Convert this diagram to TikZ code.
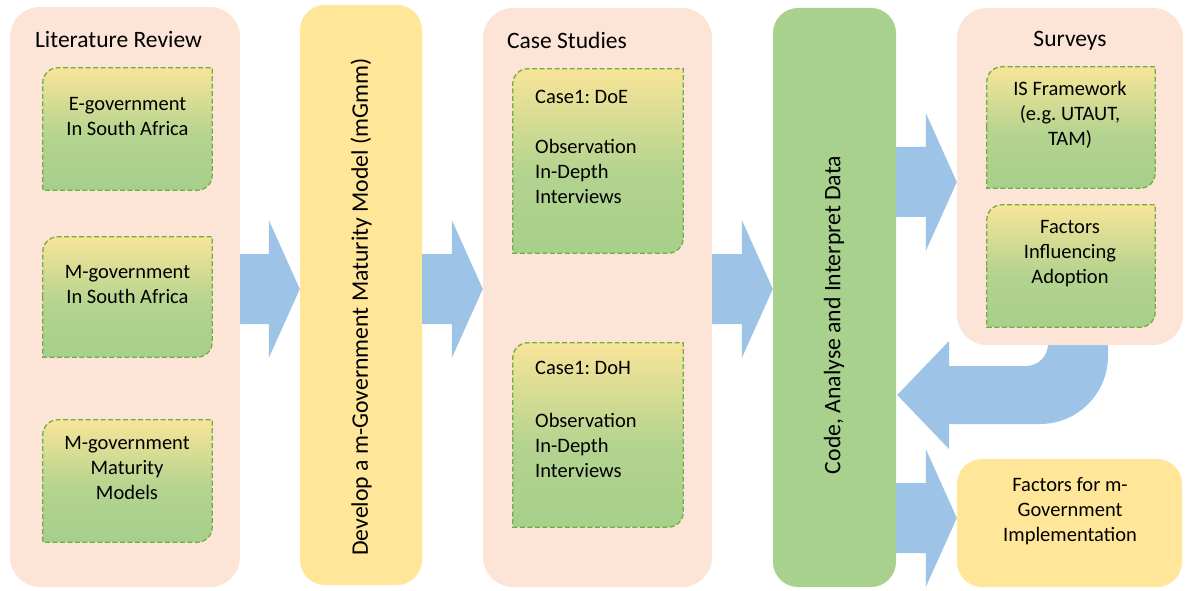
\documentclass[tikz,border=0pt]{standalone}
\usepackage{fontspec}
\setmainfont{Carlito}
\frenchspacing
\usetikzlibrary{calc}
\definecolor{peach}{HTML}{FCE4D6}
\definecolor{sand}{HTML}{FFE699}
\definecolor{leaf}{HTML}{A9D18E}
\definecolor{sky}{HTML}{9DC3E6}
\definecolor{edgegreen}{HTML}{70AD47}

% yellow at the top fading to green over the upper half
\pgfdeclareverticalshading{cardfade}{100bp}{%
  color(0bp)=(leaf!96!edgegreen); color(25bp)=(leaf!96!edgegreen);
  color(47bp)=(leaf!88!sand); color(75bp)=(sand!92!leaf); color(100bp)=(sand!92!leaf)}

% inner card: rounded top-left and bottom-right corners only
\newcommand\cardshape[1]{%
  \path[card] (#1.west) -- ([yshift=-15pt]#1.north west)
    arc[start angle=180,end angle=90,radius=15pt] -- (#1.north east)
    -- ([yshift=15pt]#1.south east)
    arc[start angle=0,end angle=-90,radius=15pt] -- (#1.south west) -- cycle;}

% block arrow between two nodes at height #3
\newcommand\blockarrow[3]{%
  \fill[flow] let \p1=(#1.east), \p2=(#2.west) in
    (\x1,#3pt+35pt) -- (\x2-31pt,#3pt+35pt) -- (\x2-31pt,#3pt+69pt)
    -- (\x2,#3pt) -- (\x2-31pt,#3pt-69pt) -- (\x2-31pt,#3pt-35pt)
    -- (\x1,#3pt-35pt) -- cycle;}

\begin{document}
\begin{tikzpicture}[x=1pt,y=1pt,
  stage/.style={fill=peach, rounded corners=30pt, inner sep=0pt},
  bar/.style={rounded corners=25pt, inner sep=0pt},
  slot/.style={inner sep=0pt},
  card/.style={draw=edgegreen, line width=1.3pt, dash pattern=on 5pt off 2.5pt,
    shade, shading=cardfade},
  flow/.style={fill=sky},
  title/.style={font=\fontsize{23.5}{28}\selectfont, inner sep=0pt},
  txt/.style={font=\fontsize{20.5}{25}\selectfont, inner sep=0pt, align=center},
  ltxt/.style={font=\fontsize{20.5}{25}\selectfont, inner sep=0pt, align=left, anchor=west},
  vtxt/.style={font=\fontsize{23.7}{28}\selectfont, inner sep=0pt, rotate=90}]
\useasboundingbox (0,0) rectangle (1185,590);

% main stages
\node[stage, minimum width=230pt, minimum height=580pt] (lr) at (125,293) {};
\node[bar, fill=sand, minimum width=122pt, minimum height=580pt] (dm) at (361,295) {};
\node[stage, minimum width=229pt, minimum height=579pt] (cs) at (597.5,292.5) {};
\node[bar, fill=leaf, minimum width=123pt, minimum height=579pt] (ca) at (834.5,292.5) {};

% loop back from the surveys to the analysis
\fill[flow] let \p1=(ca.east) in
  (\x1+1pt,195pt) -- (949,249) -- (949,224) -- (1026,224)
  arc[start angle=-90,end angle=0,radius=22] -- (1048,260) -- (1108,260)
  -- (1108,234) arc[start angle=0,end angle=-90,radius=68] -- (949,166)
  -- (949,141) -- cycle;

\node[stage, minimum width=226pt, minimum height=337pt] (sv) at (1070,413.5) {};
\node[bar, fill=sand, minimum width=225pt, minimum height=128pt] (fi) at (1069.5,67) {};

% titles
\node[title] (lrt) at (118.5,550) {Literature Review};
\node[title] (cst) at (567,550) {Case Studies};
\node[title] (svt) at (1070,549) {Surveys};

% literature cards
\node[slot, minimum width=169pt, minimum height=122pt] (lr1) at (127.5,461) {};
\cardshape{lr1}
\node[slot, minimum width=169pt, minimum height=120pt] (lr2) at (127.5,293) {};
\cardshape{lr2}
\node[slot, minimum width=169pt, minimum height=122pt] (lr3) at (127.5,109) {};
\cardshape{lr3}
\node[txt] (lr1x) at (127.5,473.5) {E-government\\In South Africa};
\node[txt] (lr2x) at (127.5,305.5) {M-government\\In South Africa};
\node[txt] (lr3x) at (127,122.5) {M-government\\Maturity\\Models};

% case cards
\node[slot, minimum width=170pt, minimum height=184pt] (cs1) at (598,429) {};
\cardshape{cs1}
\node[slot, minimum width=170pt, minimum height=184pt] (cs2) at (598,155) {};
\cardshape{cs2}
\node[ltxt] (cs1x) at (535,443) {Case1: DoE\\[25pt]Observation\\In-Depth\\Interviews};
\node[ltxt] (cs2x) at (535,171) {Case1: DoH\\[28pt]Observation\\In-Depth\\Interviews};

% survey cards
\node[slot, minimum width=168pt, minimum height=121pt] (sv1) at (1071,462.5) {};
\cardshape{sv1}
\node[slot, minimum width=168pt, minimum height=122pt] (sv2) at (1071,324) {};
\cardshape{sv2}
\node[txt] (sv1x) at (1070,475) {IS Framework\\(e.g. UTAUT,\\TAM)};
\node[txt] (sv2x) at (1070,336.5) {Factors\\Influencing\\Adoption};

\node[txt] (fix) at (1070,78.5) {Factors for m-\\Government\\Implementation};

% vertical labels
\node[vtxt] (dmx) at (361,283) {Develop a m-Government Maturity Model (mGmm)};
\node[vtxt] (cax) at (834,275) {Code, Analyse and Interpret Data};

% forward flow
\blockarrow{lr}{dm}{301}
\blockarrow{dm}{cs}{301}
\blockarrow{cs}{ca}{301}
\blockarrow{ca}{sv}{408}
\blockarrow{ca}{fi}{72}
\end{tikzpicture}
\end{document}
